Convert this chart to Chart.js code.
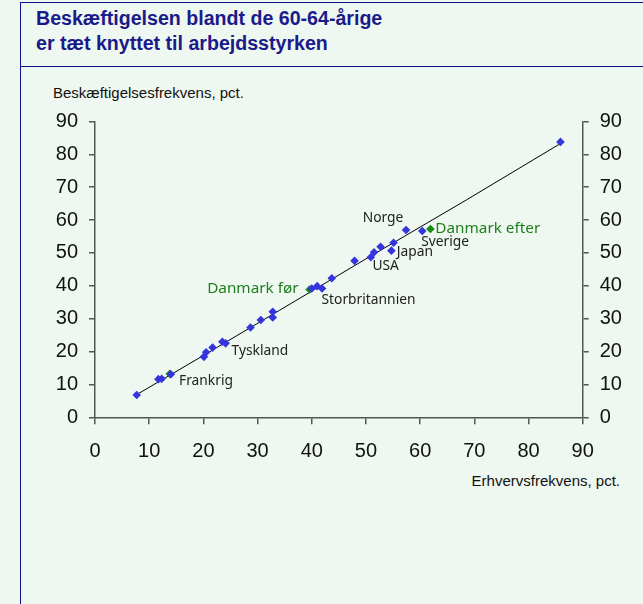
<!DOCTYPE html>
<html>
<head>
<meta charset="utf-8">
<script src="https://cdn.jsdelivr.net/npm/chart.js@4"></script>
<style>
  html, body { margin: 0; padding: 0; }
  body { width: 643px; height: 604px; background: #eef7f0; position: relative; overflow: hidden;
         font-family: "Liberation Sans", Arial, sans-serif; }
  .frame { position: absolute; left: 20px; top: 2px; width: 623px; height: 602px;
           border-left: 1.5px solid #10108a; border-top: 1.5px solid #10108a; }
  .rule { position: absolute; left: 20px; top: 66px; width: 623px; height: 0; border-top: 1.5px solid #10108a; }
  .title { position: absolute; left: 36px; top: 6px; font-weight: bold; font-size: 19.6px;
           line-height: 25px; color: #1a1a8a; }
  .ytitle { position: absolute; left: 53px; top: 84px; font-size: 15px; color: #111; }
  .xtitle { position: absolute; right: 23px; top: 472px; font-size: 15px; color: #111; }
  #wrap { position: absolute; left: 21px; top: 67px; width: 622px; height: 537px; }
</style>
</head>
<body>
<div class="frame"></div>
<div class="rule"></div>
<div class="title">Beskæftigelsen blandt de 60-64-årige<br>er tæt knyttet til arbejdsstyrken</div>
<div class="ytitle">Beskæftigelsesfrekvens, pct.</div>
<div class="xtitle">Erhvervsfrekvens, pct.</div>
<div id="wrap"><canvas id="c"></canvas></div>
<script>
// lande (erhvervsfrekvens, beskæftigelsesfrekvens)
const blueX = [7.7, 11.7, 12.3, 14.0, 20.1, 20.5, 21.7, 23.5, 24.1, 28.7, 30.6, 32.8, 32.8,
               40.0, 41.0, 41.9, 43.7, 47.9, 50.9, 51.5, 52.7, 54.7, 55.1, 57.4, 60.4, 85.9];
const blueY = [6.8, 11.6, 11.7, 13.1, 18.4, 19.8, 21.2, 23.0, 22.5, 27.3, 29.6, 32.1, 30.4,
               39.2, 39.9, 39.2, 42.3, 47.6, 48.7, 50.2, 51.9, 50.7, 53.1, 57.0, 56.7, 83.8];
// Danmark for/efter
const greenX = [13.8, 39.6, 61.9];
const greenY = [13.2, 38.9, 57.3];
// tendenslinje
const fitX = [7.7, 20, 34.1, 50, 68.5, 86];
const fitY = [6.9, 18.8, 32.6, 48.2, 66.1, 83.4];

const ticks = [0, 10, 20, 30, 40, 50, 60, 70, 80, 90];

// tekster ved punkterne
const labelText = ['Frankrig', 'Tyskland', 'Danmark før', 'Storbritannien', 'USA', 'Japan',
                   'Norge', 'Sverige', 'Danmark efter'];
const labelX = [15.5, 25.2, 20.7, 41.8, 51.2, 55.7, 49.4, 60.2, 62.8];
const labelY = [11.0, 20.0, 39.2, 35.8, 45.9, 50.4, 60.5, 53.3, 57.3];
const labelGreen = [false, false, true, false, false, false, false, false, true];

const pts = (xs, ys) => xs.map((x, i) => ({ x: x, y: ys[i] }));

const labelPlugin = {
    id: 'labels',
    afterDatasetsDraw(chart) {
        const ctx = chart.ctx, sx = chart.scales.x, sy = chart.scales.y;
        ctx.save();
        ctx.textBaseline = 'middle';
        ctx.textAlign = 'left';
        labelText.forEach((t, i) => {
            ctx.fillStyle = labelGreen[i] ? '#1f7f1f' : '#222';
            ctx.font = labelGreen[i] ? '15.3px "Noto Sans"' : '13.8px "Noto Sans"';
            ctx.fillText(t, sx.getPixelForValue(labelX[i]), sy.getPixelForValue(labelY[i]));
        });
        ctx.restore();
    }
};

const axisCol = '#555';
const tickFont = { family: '"Liberation Sans", Arial', size: 20 };

new Chart(document.getElementById('c'), {
    type: 'scatter',
    data: {
        datasets: [
            { data: pts(blueX, blueY), pointStyle: 'rectRot', pointRadius: 4.3,
              backgroundColor: '#3535dd', borderColor: '#3535dd', borderWidth: 0, order: 1 },
            { data: pts(greenX, greenY), pointStyle: 'rectRot', pointRadius: 4.3,
              backgroundColor: '#138a13', borderColor: '#138a13', borderWidth: 0, order: 2 },
            { type: 'line', data: pts(fitX, fitY), showLine: true, pointRadius: 0,
              borderColor: '#000', borderWidth: 1, tension: 0, fill: false, order: 3 }
        ]
    },
    options: {
        responsive: true,
        maintainAspectRatio: false,
        animation: false,
        events: [],
        layout: { padding: { top: 54.5, left: 0, right: 0, bottom: 0 } },
        plugins: { legend: { display: false }, tooltip: { enabled: false }, title: { display: false } },
        scales: {
            x: {
                type: 'linear', min: 0, max: 90,
                afterBuildTicks: s => { s.ticks = ticks.map(v => ({ value: v })); },
                afterFit: s => { s.height = 186.7; },
                grid: { drawOnChartArea: false, tickLength: 7, color: axisCol, lineWidth: 1.5 },
                border: { color: axisCol, width: 1.5 },
                ticks: { color: '#111', font: tickFont, padding: 15, maxRotation: 0 }
            },
            y: {
                type: 'linear', position: 'left', min: 0, max: 90,
                afterBuildTicks: s => { s.ticks = ticks.map(v => ({ value: v })); },
                afterFit: s => { s.width = 74; },
                grid: { drawOnChartArea: false, tickLength: 6, color: axisCol, lineWidth: 1.5 },
                border: { color: axisCol, width: 1.5 },
                ticks: { color: '#111', font: tickFont, padding: 11 }
            },
            y2: {
                type: 'linear', position: 'right', min: 0, max: 90,
                afterBuildTicks: s => { s.ticks = ticks.map(v => ({ value: v })); },
                afterFit: s => { s.width = 60.3; },
                grid: { drawOnChartArea: false, tickLength: 6, color: axisCol, lineWidth: 1.5 },
                border: { color: axisCol, width: 1.5 },
                ticks: { color: '#111', font: tickFont, padding: 11 }
            }
        }
    },
    plugins: [labelPlugin]
});
</script>
</body>
</html>
